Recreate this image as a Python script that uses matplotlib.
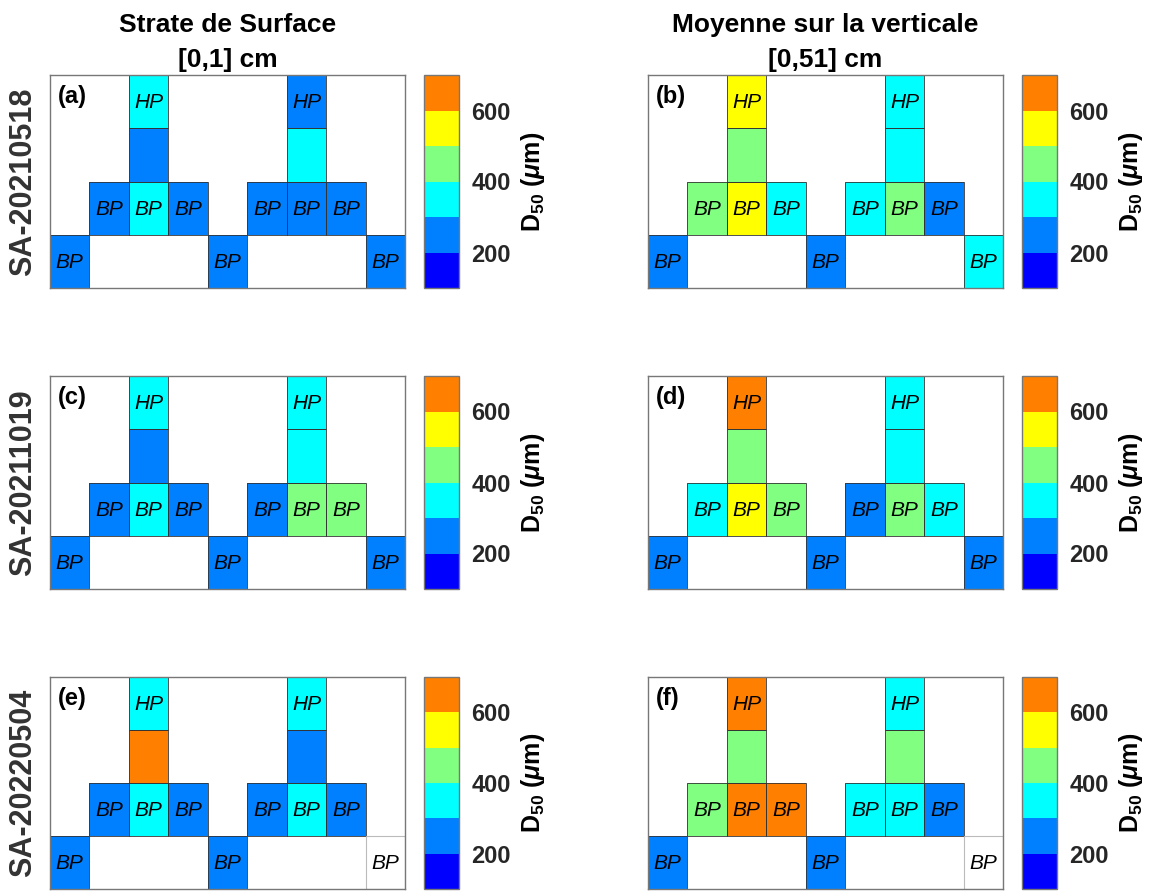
import numpy as np
import matplotlib.pyplot as plt
from matplotlib.colors import ListedColormap, BoundaryNorm

plt.rcParams['font.family'] = ['Liberation Sans', 'DejaVu Sans']
plt.rcParams['mathtext.fontset'] = 'custom'
plt.rcParams['mathtext.rm'] = 'Liberation Sans:bold'
plt.rcParams['mathtext.it'] = 'Liberation Sans:italic:bold'
plt.rcParams['mathtext.bf'] = 'Liberation Sans:bold'

# grid: 4 rows x 9 columns, cells (row, col) that hold a sample
cells = [(0, 2), (1, 2), (2, 1), (2, 2), (2, 3),
         (0, 6), (1, 6), (2, 5), (2, 6), (2, 7),
         (3, 0), (3, 4), (3, 8)]
cell_tags = ['HP', '', 'BP', 'BP', 'BP',
             'HP', '', 'BP', 'BP', 'BP',
             'BP', 'BP', 'BP']

# D50 (um) per cell, same order as cells ; nan = no data
d50_a = [350, 250, 250, 350, 250, 250, 350, 250, 250, 250, 250, 250, 250]
d50_b = [550, 450, 450, 550, 350, 350, 350, 350, 450, 250, 250, 250, 350]
d50_c = [350, 250, 250, 350, 250, 350, 350, 250, 450, 450, 250, 250, 250]
d50_d = [650, 450, 350, 550, 450, 350, 350, 250, 450, 350, 250, 250, 250]
d50_e = [350, 650, 250, 350, 250, 350, 250, 250, 350, 250, 250, 250, np.nan]
d50_f = [650, 450, 450, 650, 650, 350, 450, 350, 350, 250, 250, 250, np.nan]

panels = [d50_a, d50_b, d50_c, d50_d, d50_e, d50_f]
letters = ['(a)', '(b)', '(c)', '(d)', '(e)', '(f)']
campaigns = ['SA-20210518', 'SA-20211019', 'SA-20220504']
col_titles = ['Strate de Surface\n[0,1] cm', 'Moyenne sur la verticale\n[0,51] cm']

levels = [100, 200, 300, 400, 500, 600, 700]
colors = ['#0000ff', '#0080ff', '#00ffff', '#80ff80', '#ffff00', '#ff8000']
cmap = ListedColormap(colors)
norm = BoundaryNorm(levels, cmap.N)

W, H = 1158, 891
fig = plt.figure(figsize=(W / 100, H / 100), dpi=100)

def box(x0, y0, x1, y1):
    return [x0 / W, 1 - y1 / H, (x1 - x0) / W, (y1 - y0) / H]

ax_x = [(50, 405), (648, 1003)]
cb_x = [(424, 459), (1022, 1057)]
row_y = [(75, 288), (376, 589), (677, 889)]
nrow, ncol = 4, 9

for k, vals in enumerate(panels):
    r, c = divmod(k, 2)
    ax = fig.add_axes(box(ax_x[c][0], row_y[r][0], ax_x[c][1], row_y[r][1]))
    grid = np.full((nrow, ncol), np.nan)
    for (i, j), v in zip(cells, vals):
        grid[i, j] = v
    m = ax.pcolormesh(np.ma.masked_invalid(grid), cmap=cmap, norm=norm)
    for (i, j), v in zip(cells, vals):
        if np.isnan(v):
            ax.add_patch(plt.Rectangle((j, i), 1, 1, fill=False, ec='#bbbbbb', lw=0.8))
        else:
            ax.add_patch(plt.Rectangle((j, i), 1, 1, fill=False, ec='#333333', lw=0.6))
    for (i, j), t in zip(cells, cell_tags):
        if t:
            ax.text(j + 0.5, i + 0.52, t, ha='center', va='center',
                    fontsize=15, style='italic')
    ax.set_xlim(0, ncol)
    ax.set_ylim(nrow, 0)
    ax.set_xticks([])
    ax.set_yticks([])
    for s in ax.spines.values():
        s.set_color('#777777')
        s.set_linewidth(1.0)
        s.set_zorder(5)
    ax.text(0.2, 0.4, letters[k], ha='left', va='center', fontsize=17,
            fontweight='bold')
    if c == 0:
        ax.text(-0.075, 0.5, campaigns[r], transform=ax.transAxes, rotation=90,
                ha='center', va='center', fontsize=22, fontweight='bold',
                color='#333333')
    if r == 0:
        ax.set_title(col_titles[c], fontsize=19, fontweight='bold', pad=6,
                     linespacing=1.55)

    cax = fig.add_axes(box(cb_x[c][0], row_y[r][0], cb_x[c][1], row_y[r][1]))
    cb = fig.colorbar(m, cax=cax, ticks=[200, 400, 600])
    cax.minorticks_off()
    cb.outline.set_edgecolor('#777777')
    cb.outline.set_linewidth(1.0)
    cax.tick_params(which='both', length=0, pad=9, labelsize=17, labelcolor='#262626')
    for lab in cax.get_yticklabels():
        lab.set_fontweight('bold')
    cb.set_label(r'D$_{50}$ ($\mu$m)', fontsize=18, fontweight='bold',
                 labelpad=6)

fig.savefig('out.png', dpi=100)
